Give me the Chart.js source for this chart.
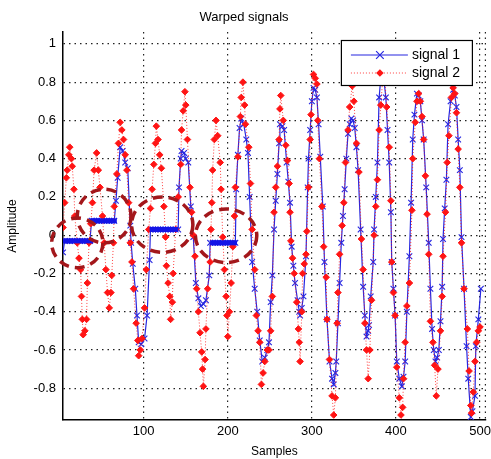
<!DOCTYPE html>
<html lang="en">
<head>
<meta charset="UTF-8">
<title>Warped signals</title>
<script src="https://cdn.jsdelivr.net/npm/chart.js"></script>
<style>
  html, body { margin: 0; padding: 0; background: #fff; }
  #caixa { width: 491px; height: 459px; }
</style>
</head>
<body>
<div id="caixa"><canvas id="grafico"></canvas></div>
<script>
// ticks of the axes
const xTicks = [100, 200, 300, 400, 500];
const yTicks = [-0.8, -0.6, -0.4, -0.2, 0, 0.2, 0.4, 0.6, 0.8, 1];

// signal 1 (blue, x markers)
const s1X = [
  4, 6, 9, 12, 15, 18, 21, 24, 27, 30,
  33, 36, 38, 41, 44, 47, 50, 53, 56, 59,
  62, 65, 67, 69, 72, 75, 78, 81, 84, 85,
  87, 90, 92, 94, 97, 101, 104, 107, 108, 111,
  114, 117, 120, 123, 126, 129, 132, 135, 138, 141,
  142, 144, 145, 148, 150, 153, 156, 159, 162, 165,
  168, 171, 174, 178, 179, 182, 185, 188, 191, 194,
  197, 200, 203, 206, 209, 210, 212, 214, 216, 219,
  222, 224, 226, 229, 232, 235, 238, 241, 244, 247,
  249, 251, 253, 255, 257, 259, 261, 262, 265, 267,
  270, 272, 274, 276, 278, 280, 283, 285, 286, 288,
  290, 293, 295, 296, 298, 300, 302, 304, 306, 308,
  310, 313, 315, 318, 321, 324, 326, 328, 329, 331,
  333, 335, 337, 339, 341, 343, 345, 347, 349, 351,
  353, 355, 358, 361, 363, 365, 367, 368, 370, 373,
  374, 376, 378, 380, 382, 384, 386, 388, 390, 392,
  394, 395, 397, 399, 401, 404, 407, 409, 411, 413,
  416, 418, 420, 422, 425, 427, 429, 431, 433, 436,
  439, 441, 443, 445, 447, 449, 451, 453, 455, 456,
  458, 460, 462, 465, 468, 470, 472, 474, 476, 478,
  481, 484, 486, 489, 491, 494, 495, 498, 501
];
const s1Y = [
  -0.09, -0.03, -0.03, -0.03, -0.03, -0.03, -0.03, -0.03, -0.03, -0.03,
  -0.03, -0.03, 0.075, 0.075, 0.075, 0.075, 0.075, 0.075, 0.075, 0.075,
  0.075, 0.075, 0.18, 0.3, 0.46, 0.44, 0.38, 0.35, 0.05, -0.04,
  -0.15, -0.28, -0.42, -0.56, -0.57, -0.54, -0.42, -0.13, 0.03, 0.03,
  0.03, 0.03, 0.03, 0.03, 0.03, 0.03, 0.03, 0.03, 0.03, 0.03,
  0.25, 0.4, 0.44, 0.43, 0.4, 0.38, 0.15, -0.01, -0.25, -0.33,
  -0.37, -0.36, -0.34, -0.21, -0.04, -0.04, -0.04, -0.04, -0.04, -0.04,
  -0.04, -0.04, -0.04, -0.04, -0.04, 0.24, 0.42, 0.56, 0.61, 0.58,
  0.5, 0.43, 0.2, -0.14, -0.28, -0.4, -0.55, -0.66, -0.64, -0.6,
  -0.56, -0.35, -0.21, 0.03, 0.18, 0.32, 0.48, 0.58, 0.57, 0.55,
  0.38, 0.28, 0.17, -0.06, -0.16, -0.25, -0.34, -0.4, -0.42, -0.38,
  -0.32, -0.11, 0.25, 0.4, 0.55, 0.7, 0.77, 0.76, 0.72, 0.58,
  0.41, 0.15, -0.14, -0.44, -0.66, -0.75, -0.78, -0.72, -0.66, -0.46,
  -0.25, -0.04, 0.1, 0.24, 0.4, 0.53, 0.58, 0.61, 0.6, 0.56,
  0.46, 0.34, 0.03, -0.27, -0.42, -0.53, -0.5, -0.47, -0.32, -0.14,
  0.03, 0.2, 0.38, 0.72, 0.82, 0.86, 0.8, 0.72, 0.55, 0.38,
  0.12, -0.14, -0.28, -0.42, -0.66, -0.75, -0.79, -0.74, -0.66, -0.4,
  -0.11, 0.17, 0.5, 0.63, 0.74, 0.73, 0.7, 0.6, 0.5, 0.25,
  -0.04, -0.28, -0.49, -0.6, -0.66, -0.64, -0.6, -0.45, -0.27, -0.02,
  0.14, 0.29, 0.58, 0.7, 0.76, 0.73, 0.67, 0.5, 0.34, -0.01,
  -0.28, -0.58, -0.75, -0.95, -0.92, -0.84, -0.58, -0.44, -0.28
];

// signal 2 (red, dotted)
const s2X = [
  4, 6, 8, 9, 11, 12, 14, 15, 17, 18,
  21, 23, 25, 26, 27, 28, 30, 32, 33, 35,
  37, 39, 41, 44, 46, 48, 51, 53, 55, 57,
  59, 61, 62, 64, 65, 68, 70, 72, 74, 76,
  78, 80, 82, 84, 86, 88, 91, 93, 94, 96,
  98, 101, 103, 106, 108, 110, 112, 114, 115, 117,
  119, 121, 124, 126, 127, 129, 131, 132, 134, 135,
  138, 141, 144, 145, 147, 149, 150, 152, 155, 157,
  159, 161, 163, 165, 167, 169, 170, 171, 173, 174,
  176, 179, 180, 181, 182, 184, 186, 188, 191, 192,
  194, 196, 198, 199, 200, 202, 204, 206, 208, 209,
  212, 215, 216, 218, 220, 221, 225, 227, 229, 232,
  234, 236, 238, 240, 242, 244, 247, 249, 251, 253,
  255, 257, 259, 261, 262, 263, 266, 269, 271, 273,
  274, 275, 277, 279, 282, 284, 285, 286, 288, 289,
  291, 293, 294, 296, 298, 299, 302, 304, 306, 307,
  309, 312, 314, 317, 318, 321, 324, 326, 328, 330,
  331, 333, 336, 338, 340, 343, 345, 348, 350, 353,
  356, 359, 361, 363, 365, 367, 369, 371, 374, 376,
  378, 380, 382, 385, 387, 389, 392, 394, 395, 397,
  399, 401, 404, 406, 408, 409, 411, 413, 416, 419,
  420, 423, 425, 427, 429, 431, 433, 435, 437, 439,
  441, 444, 446, 448, 450, 453, 455, 456, 459, 461,
  463, 466, 468, 470, 472, 474, 476, 478, 481, 485,
  487, 489, 490, 492, 494, 496, 498, 500
];
const s2Y = [
  0.04, 0.17, 0.3, 0.34, 0.42, 0.46, 0.4, 0.36, 0.24, 0.1,
  -0.04, -0.12, -0.18, -0.32, -0.44, -0.52, -0.5, -0.44, -0.25, -0.04,
  0.06, 0.17, 0.34, 0.43, 0.34, 0.25, 0.1, -0.04, -0.18, -0.3,
  -0.38, -0.3, -0.21, -0.04, 0.15, 0.32, 0.48, 0.59, 0.55, 0.5,
  0.42, 0.34, 0.17, -0.04, -0.14, -0.28, -0.46, -0.55, -0.63, -0.6,
  -0.54, -0.38, -0.18, 0.03, 0.14, 0.24, 0.37, 0.48, 0.57, 0.5,
  0.42, 0.35, 0.15, -0.01, -0.16, -0.25, -0.32, -0.44, -0.35, -0.2,
  0.03, 0.2, 0.37, 0.55, 0.65, 0.75, 0.68, 0.5, 0.25, 0.12,
  0, -0.11, -0.28, -0.4, -0.51, -0.61, -0.7, -0.79, -0.65, -0.49,
  -0.28, -0.14, 0.03, 0.17, 0.34, 0.5, 0.6, 0.52, 0.38, 0.24,
  -0.01, -0.18, -0.32, -0.42, -0.53, -0.4, -0.25, -0.06, 0.1, 0.25,
  0.41, 0.62, 0.72, 0.8, 0.68, 0.58, 0.46, 0.27, 0.03, -0.18,
  -0.42, -0.5, -0.56, -0.78, -0.72, -0.66, -0.6, -0.6, -0.5, -0.32,
  0.12, 0.25, 0.36, 0.5, 0.66, 0.73, 0.6, 0.47, 0.39, 0.27,
  0.12, -0.03, -0.12, -0.2, -0.35, -0.49, -0.56, -0.66, -0.4, -0.2,
  -0.15, -0.1, 0.02, 0.25, 0.5, 0.63, 0.84, 0.82, 0.79, 0.6,
  0.4, 0.15, -0.06, -0.22, -0.44, -0.65, -0.84, -0.94, -0.85, -0.46,
  -0.3, -0.1, 0.05, 0.17, 0.38, 0.55, 0.67, 0.78, 0.7, 0.48,
  0.33, -0.02, -0.18, -0.46, -0.6, -0.75, -0.6, -0.34, 0, 0.15,
  0.29, 0.55, 0.68, 0.86, 0.8, 0.67, 0.46, 0.18, -0.14, -0.3,
  -0.42, -0.69, -0.85, -0.94, -0.9, -0.75, -0.56, -0.37, -0.25, 0.13,
  0.4, 0.59, 0.7, 0.74, 0.7, 0.62, 0.5, 0.31, 0.11, -0.1,
  -0.45, -0.56, -0.68, -0.84, -0.7, -0.5, -0.32, -0.11, 0.12, 0.38,
  0.52, 0.72, 0.77, 0.74, 0.64, 0.45, 0.25, -0.04, -0.28, -0.49,
  -0.71, -0.89, -0.93, -0.82, -0.66, -0.56, -0.5, -0.48
];

// thick blue marks on the flat parts (start, end, level)
const barX0 = [4, 36, 107, 179];
const barX1 = [40, 68, 141, 211];
const barY = [-0.03, 0.075, 0.03, -0.04];

// dashed circles (centre and radii in data units)
const circX = [21, 53, 122, 198];
const circY = [-0.04, 0.1, 0.055, -0.003];
const circRX = [30.5, 32, 36.5, 36.5];
const circRY = [0.13, 0.14, 0.145, 0.14];

const azul = '#2626e0';
const vermelho = '#ff1414';

Chart.defaults.font.family = "'Liberation Sans', Arial, sans-serif";
Chart.defaults.color = '#000';

const pontos = (xs, ys) => xs.map((x, i) => ({ x: x, y: ys[i] }));

const barras = barX0.map((x0, i) => ({
  label: 'marca',
  data: [{ x: x0, y: barY[i] }, { x: barX1[i], y: barY[i] }],
  borderColor: '#1414e6',
  borderWidth: 5,
  borderCapStyle: 'butt',
  pointRadius: 0,
  order: 0
}));

// circles drawn in data space
const circulos = {
  id: 'circulos',
  afterDatasetsDraw(chart) {
    const { ctx, scales: { x, y } } = chart;
    ctx.save();
    ctx.strokeStyle = '#a3171b';
    ctx.lineWidth = 3.5;
    ctx.setLineDash([10, 6]);
    for (let i = 0; i < circX.length; i++) {
      const cx = x.getPixelForValue(circX[i]);
      const cy = y.getPixelForValue(circY[i]);
      const rx = Math.abs(x.getPixelForValue(circX[i] + circRX[i]) - cx);
      const ry = Math.abs(y.getPixelForValue(circY[i] + circRY[i]) - cy);
      ctx.beginPath();
      ctx.ellipse(cx, cy, rx, ry, 0, 0, Math.PI * 2);
      ctx.stroke();
    }
    ctx.restore();
  }
};

// dotted right edge, like the matlab box
const bordaDireita = {
  id: 'bordaDireita',
  beforeDatasetsDraw(chart) {
    const { ctx, chartArea } = chart;
    ctx.save();
    ctx.strokeStyle = '#222';
    ctx.lineWidth = 1.2;
    ctx.setLineDash([1.5, 4]);
    ctx.beginPath();
    ctx.moveTo(chartArea.right - 0.5, chartArea.top);
    ctx.lineTo(chartArea.right - 0.5, chartArea.bottom);
    ctx.stroke();
    ctx.restore();
  }
};

// legend box inside the plot
const legenda = {
  id: 'legenda',
  afterDraw(chart) {
    const { ctx, chartArea } = chart;
    const w = 132, h = 46;
    const left = chartArea.right - 13 - w;
    const top = chartArea.top + 8;
    ctx.save();
    ctx.fillStyle = '#fff';
    ctx.fillRect(left, top, w, h);
    ctx.strokeStyle = '#000';
    ctx.lineWidth = 1.2;
    ctx.strokeRect(left + 0.5, top + 0.5, w - 1, h - 1);
    const linhas = [chart.data.datasets[1], chart.data.datasets[0]];
    linhas.forEach((ds, i) => {
      const yy = top + 15 + i * 18;
      ctx.strokeStyle = ds.borderColor;
      ctx.lineWidth = 1.2;
      ctx.setLineDash(ds.borderDash || []);
      ctx.beginPath();
      ctx.moveTo(left + 10, yy);
      ctx.lineTo(left + 67, yy);
      ctx.stroke();
      ctx.setLineDash([]);
      const mx = left + 39;
      const r = 3.8;
      if (ds.pointStyle === 'crossRot') {
        ctx.beginPath();
        ctx.moveTo(mx - r, yy - r); ctx.lineTo(mx + r, yy + r);
        ctx.moveTo(mx - r, yy + r); ctx.lineTo(mx + r, yy - r);
        ctx.stroke();
      } else {
        ctx.fillStyle = ds.pointBackgroundColor;
        ctx.beginPath();
        ctx.moveTo(mx, yy - r); ctx.lineTo(mx + r, yy);
        ctx.lineTo(mx, yy + r); ctx.lineTo(mx - r, yy);
        ctx.closePath();
        ctx.fill();
      }
      ctx.fillStyle = '#000';
      ctx.font = "14px 'Liberation Sans', Arial, sans-serif";
      ctx.textBaseline = 'middle';
      ctx.fillText(ds.label, left + 71, yy);
    });
    ctx.restore();
  }
};

new Chart(document.getElementById('grafico'), {
  type: 'line',
  data: {
    datasets: [
      {
        label: 'signal 2',
        data: pontos(s2X, s2Y),
        borderColor: 'rgba(255,30,30,0.85)',
        borderWidth: 1,
        borderDash: [1, 2],
        pointStyle: 'rectRot',
        pointRadius: 3.3,
        pointBackgroundColor: vermelho,
        pointBorderColor: vermelho,
        pointBorderWidth: 1,
        tension: 0,
        order: 1
      },
      {
        label: 'signal 1',
        data: pontos(s1X, s1Y),
        borderColor: azul,
        borderWidth: 1.2,
        pointStyle: 'crossRot',
        pointRadius: 4,
        pointBorderColor: azul,
        pointBorderWidth: 1.1,
        tension: 0,
        order: 2
      },
      ...barras
    ]
  },
  options: {
    responsive: true,
    maintainAspectRatio: false,
    animation: false,
    devicePixelRatio: 1,
    layout: { padding: { left: 0, right: 3, top: 0, bottom: 0 } },
    plugins: {
      legend: { display: false },
      tooltip: { enabled: false },
      title: {
        display: true,
        text: 'Warped signals',
        font: { size: 13, weight: 'normal' },
        color: '#000',
        padding: { top: 10, bottom: 6.4 }
      }
    },
    scales: {
      x: {
        type: 'linear',
        min: 4,
        max: 507,
        afterBuildTicks: s => { s.ticks = xTicks.map(v => ({ value: v })); },
        afterFit: s => { s.height = 39; s.paddingLeft = 0; s.paddingRight = 0; },
        ticks: { font: { size: 13 }, padding: 4, maxRotation: 0, autoSkip: false, color: '#000' },
        grid: { color: '#222', lineWidth: 1.2, drawTicks: false },
        border: { display: true, color: '#000', width: 1.5, dash: [1.5, 4] },
        title: { display: true, text: 'Samples', font: { size: 12 }, color: '#000', padding: { top: 0, bottom: 0 } }
      },
      y: {
        type: 'linear',
        min: -0.966,
        max: 1.062,
        afterBuildTicks: s => { s.ticks = yTicks.map(v => ({ value: v })); },
        afterFit: s => { s.width = 63; },
        ticks: {
          font: { size: 13 },
          padding: 7,
          color: '#000',
          callback: v => String(Math.round(v * 10) / 10)
        },
        grid: { color: '#222', lineWidth: 1.2, drawTicks: false },
        border: { display: true, color: '#000', width: 1.5, dash: [1.5, 4] },
        title: { display: true, text: 'Amplitude', font: { size: 12 }, color: '#000', padding: { top: 5, bottom: 0 } }
      }
    }
  },
  plugins: [bordaDireita, circulos, legenda]
});
</script>
</body>
</html>
